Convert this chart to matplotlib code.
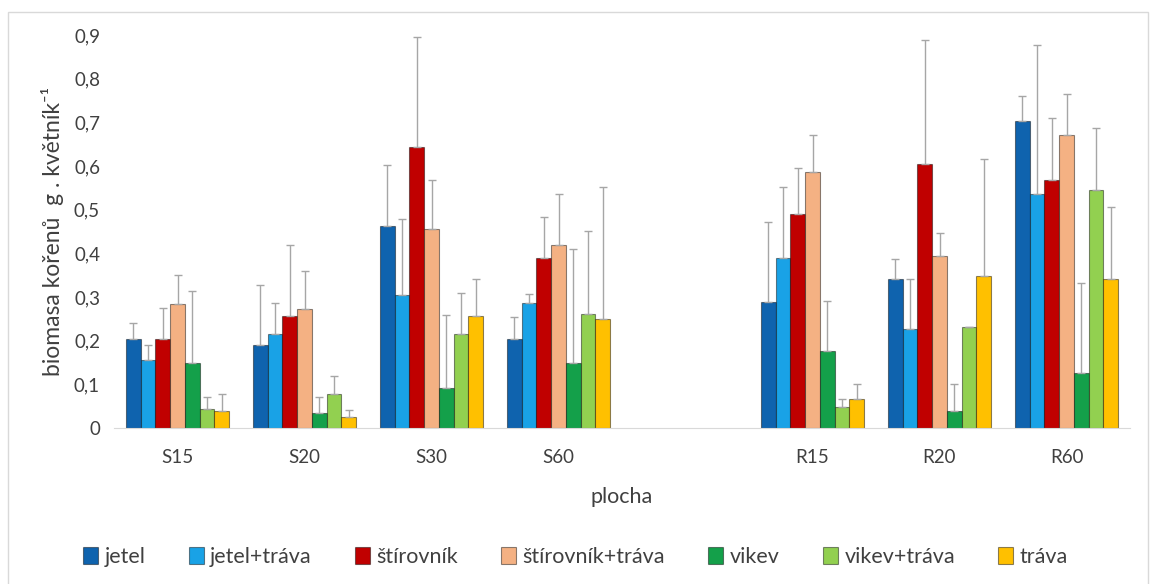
import matplotlib.pyplot as plt
import matplotlib.patches as mpatches
import numpy as np

plt.rcParams['font.family'] = ['Lato', 'DejaVu Sans']

# plochy (S = ..., R = ...), mezera mezi S60 a R15
plochy = ['S15', 'S20', 'S30', 'S60', 'R15', 'R20', 'R60']
varianty = ['jetel', 'jetel+tráva', 'štírovník', 'štírovník+tráva',
            'vikev', 'vikev+tráva', 'tráva']

# prumerna biomasa korenu (g/kvetnik)
jetel = [0.204, 0.191, 0.462, 0.204, 0.289, 0.342, 0.702]
jetel_trava = [0.156, 0.216, 0.305, 0.287, 0.389, 0.227, 0.536]
stirovnik = [0.204, 0.257, 0.643, 0.389, 0.490, 0.605, 0.568]
stirovnik_trava = [0.283, 0.273, 0.456, 0.420, 0.586, 0.393, 0.670]
vikev = [0.149, 0.034, 0.092, 0.149, 0.176, 0.038, 0.126]
vikev_trava = [0.043, 0.079, 0.216, 0.260, 0.047, 0.231, 0.544]
trava = [0.039, 0.025, 0.256, 0.249, 0.066, 0.349, 0.342]

# smerodatne odchylky (jen nahoru)
sd_jetel = [0.036, 0.137, 0.141, 0.050, 0.183, 0.045, 0.058]
sd_jetel_trava = [0.033, 0.071, 0.174, 0.019, 0.164, 0.115, 0.342]
sd_stirovnik = [0.071, 0.162, 0.252, 0.094, 0.105, 0.284, 0.142]
sd_stirovnik_trava = [0.068, 0.086, 0.112, 0.116, 0.085, 0.054, 0.095]
sd_vikev = [0.164, 0.037, 0.166, 0.261, 0.115, 0.063, 0.206]
sd_vikev_trava = [0.028, 0.041, 0.093, 0.192, 0.019, 0.0, 0.143]
sd_trava = [0.040, 0.017, 0.086, 0.304, 0.035, 0.267, 0.164]

data = [jetel, jetel_trava, stirovnik, stirovnik_trava, vikev, vikev_trava, trava]
chyby = [sd_jetel, sd_jetel_trava, sd_stirovnik, sd_stirovnik_trava,
         sd_vikev, sd_vikev_trava, sd_trava]
barvy = ['#0F63AE', '#19A2E6', '#C00000', '#F4B183', '#14A04A', '#92D050', '#FFC000']

x = np.array([0, 1, 2, 3, 5, 6, 7])
w = 0.116

fig = plt.figure(figsize=(11.51, 5.84), dpi=100)
# ramecek kolem celeho grafu
fig.patches.append(mpatches.Rectangle((8 / 1151, -0.05), 1140 / 1151, 1.05 - 12 / 584,
                                      transform=fig.transFigure, fill=False,
                                      edgecolor='#D9D9D9', linewidth=1.0))
ax = fig.add_axes([114 / 1151, 1 - 428 / 584, (1130 - 114) / 1151, (428 - 35) / 584])

for i, (vals, err, c) in enumerate(zip(data, chyby, barvy)):
    pos = x + (i - 3) * w
    ax.bar(pos, vals, w, color=c, edgecolor=(0, 0, 0, 0.45), linewidth=0.8,
           label=varianty[i], zorder=2)
    ax.errorbar(pos, vals, yerr=[np.zeros(len(vals)), err], fmt='none',
                ecolor='#A6A6A6', elinewidth=1.0, capsize=3, capthick=1.0,
                zorder=3, clip_on=False)

ax.set_xlim(-0.5, 7.5)
ax.set_ylim(0, 0.9)
ax.set_xticks(x)
ax.set_xticklabels(plochy)
yt = np.arange(0, 10) / 10
ax.set_yticks(yt)
ax.set_yticklabels(['0'] + [f'0,{k}' for k in range(1, 10)])
ax.tick_params(axis='both', length=0, labelsize=13.5, colors='#404040')
ax.tick_params(axis='x', pad=15)
ax.tick_params(axis='y', pad=10)
for s in ['top', 'right', 'left']:
    ax.spines[s].set_visible(False)
ax.spines['bottom'].set_color('#D9D9D9')

ax.set_xlabel('plocha', fontsize=15.5, color='#404040', labelpad=15)
ax.set_ylabel('biomasa kořenů  g . květník⁻¹', fontsize=16.5, color='#404040',
              labelpad=7)

fig.legend(loc='center', bbox_to_anchor=(0.5, 1 - 557 / 584), ncol=7, frameon=False,
           fontsize=15.5, handlelength=0.7, handleheight=0.8, handletextpad=0.3,
           columnspacing=2.0, labelcolor='#404040')

fig.savefig('out.png', dpi=100)
